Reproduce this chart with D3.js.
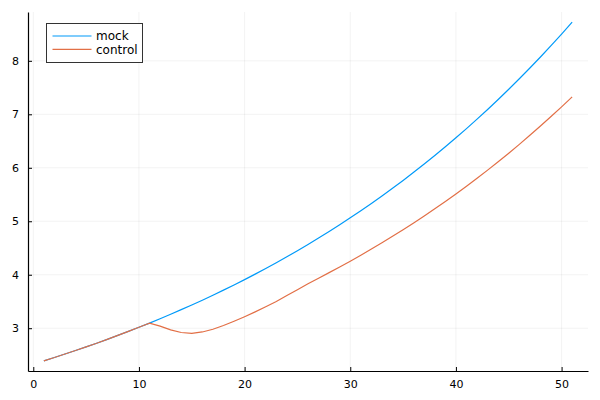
<!DOCTYPE html>
<html>
<head>
<meta charset="utf-8">
<script src="https://cdn.jsdelivr.net/npm/d3@7"></script>
<style>
  body { margin: 0; background: #fff; }
  svg { display: block; font-family: "DejaVu Sans", sans-serif; }
</style>
</head>
<body>
<div id="chart"></div>
<script>
// x positions (step number)
var steps = [1, 2, 3, 4, 5, 6, 7, 8, 9, 10,
  11, 12, 13, 14, 15, 16, 17, 18, 19, 20,
  21, 22, 23, 24, 25, 26, 27, 28, 29, 30,
  31, 32, 33, 34, 35, 36, 37, 38, 39, 40,
  41, 42, 43, 44, 45, 46, 47, 48, 49, 50, 51];

var mock = [2.390, 2.453, 2.517, 2.583, 2.651, 2.720, 2.792, 2.865, 2.940, 3.017,
  3.096, 3.178, 3.261, 3.347, 3.434, 3.524, 3.617, 3.712, 3.809, 3.909,
  4.012, 4.117, 4.225, 4.336, 4.449, 4.566, 4.686, 4.809, 4.935, 5.064,
  5.197, 5.334, 5.473, 5.617, 5.764, 5.916, 6.071, 6.230, 6.393, 6.561,
  6.733, 6.910, 7.091, 7.277, 7.468, 7.664, 7.865, 8.071, 8.283, 8.500, 8.723];

var control = [2.390, 2.453, 2.517, 2.583, 2.651, 2.720, 2.792, 2.865, 2.940, 3.017,
  3.096, 3.040, 2.970, 2.920, 2.905, 2.930, 2.980, 3.050, 3.130, 3.215,
  3.305, 3.400, 3.500, 3.610, 3.720, 3.830, 3.936, 4.040, 4.145, 4.254,
  4.365, 4.481, 4.597, 4.718, 4.842, 4.969, 5.100, 5.233, 5.370, 5.511,
  5.656, 5.804, 5.956, 6.113, 6.273, 6.438, 6.607, 6.780, 6.958, 7.140, 7.327];

var seriesNames = ['mock', 'control'];
var seriesColors = ['#009af9', '#e26f46'];

var xTicks = [0, 10, 20, 30, 40, 50];
var yTicks = [3, 4, 5, 6, 7, 8];

var fullWidth = 600;
var fullHeight = 400;
var margin = {top: 12, right: 12, bottom: 29, left: 28};
var width = fullWidth - margin.left - margin.right;
var height = fullHeight - margin.top - margin.bottom;

var svg = d3.select('#chart').append('svg')
  .attr('width', fullWidth)
  .attr('height', fullHeight);

var g = svg.append('g')
  .attr('transform', 'translate(' + margin.left + ',' + margin.top + ')');

// widen the data range by 3% on each side, like Plots.jl does
var xMin = d3.min(steps), xMax = d3.max(steps);
var xPad = (xMax - xMin) * 0.03;
var allY = mock.concat(control);
var yMin = d3.min(allY), yMax = d3.max(allY);
var yPad = (yMax - yMin) * 0.03;

var xScale = d3.scaleLinear()
  .domain([xMin - xPad, xMax + xPad])
  .range([0, width]);

var yScale = d3.scaleLinear()
  .domain([yMin - yPad, yMax + yPad])
  .range([height, 0]);

// grid lines
g.append('g').selectAll('line.vgrid')
  .data(xTicks)
  .enter().append('line')
    .attr('x1', function(d) { return xScale(d); })
    .attr('x2', function(d) { return xScale(d); })
    .attr('y1', 0)
    .attr('y2', height)
    .attr('stroke', '#000')
    .attr('stroke-opacity', 0.1)
    .attr('stroke-width', 0.5);

g.append('g').selectAll('line.hgrid')
  .data(yTicks)
  .enter().append('line')
    .attr('x1', 0)
    .attr('x2', width)
    .attr('y1', function(d) { return yScale(d); })
    .attr('y2', function(d) { return yScale(d); })
    .attr('stroke', '#000')
    .attr('stroke-opacity', 0.1)
    .attr('stroke-width', 0.5);

// axes, ticks point inward
var xAxis = d3.axisBottom(xScale)
  .tickValues(xTicks)
  .tickFormat(d3.format('d'))
  .tickSizeInner(-4)
  .tickSizeOuter(0)
  .tickPadding(9);

var yAxis = d3.axisLeft(yScale)
  .tickValues(yTicks)
  .tickFormat(d3.format('d'))
  .tickSizeInner(-4)
  .tickSizeOuter(0)
  .tickPadding(9);

var xAxisEle = g.append('g')
  .attr('transform', 'translate(0,' + height + ')')
  .call(xAxis);

var yAxisEle = g.append('g')
  .call(yAxis);

[xAxisEle, yAxisEle].forEach(function(a) {
  a.select('.domain').attr('stroke', '#000').attr('stroke-width', 1.2);
  a.selectAll('.tick line').attr('stroke', '#000').attr('stroke-width', 1);
  a.selectAll('.tick text')
    .attr('fill', '#000')
    .style('font-family', '"DejaVu Sans", sans-serif')
    .style('font-size', '11px');
});

// lines
var line = d3.line()
  .x(function(d, i) { return xScale(steps[i]); })
  .y(function(d) { return yScale(d); });

var seriesData = [mock, control];

g.append('g').selectAll('path.series')
  .data(seriesData)
  .enter().append('path')
    .attr('fill', 'none')
    .attr('stroke', function(d, i) { return seriesColors[i]; })
    .attr('stroke-width', 1.2)
    .attr('d', line);

// legend
var legend = svg.append('g')
  .attr('transform', 'translate(46.5,23.5)');

legend.append('rect')
  .attr('width', 96)
  .attr('height', 39)
  .attr('fill', '#fff')
  .attr('stroke', '#333')
  .attr('stroke-width', 1);

var items = legend.selectAll('g.item')
  .data(seriesNames)
  .enter().append('g')
    .attr('transform', function(d, i) { return 'translate(0,' + (12.5 + i * 13.3) + ')'; });

items.append('line')
  .attr('x1', 6)
  .attr('x2', 45)
  .attr('stroke', function(d, i) { return seriesColors[i]; })
  .attr('stroke-width', 1.2);

items.append('text')
  .attr('x', 49.5)
  .attr('dy', '0.35em')
  .style('font-size', '12px')
  .attr('fill', '#000')
  .text(function(d) { return d; });
</script>
</body>
</html>
